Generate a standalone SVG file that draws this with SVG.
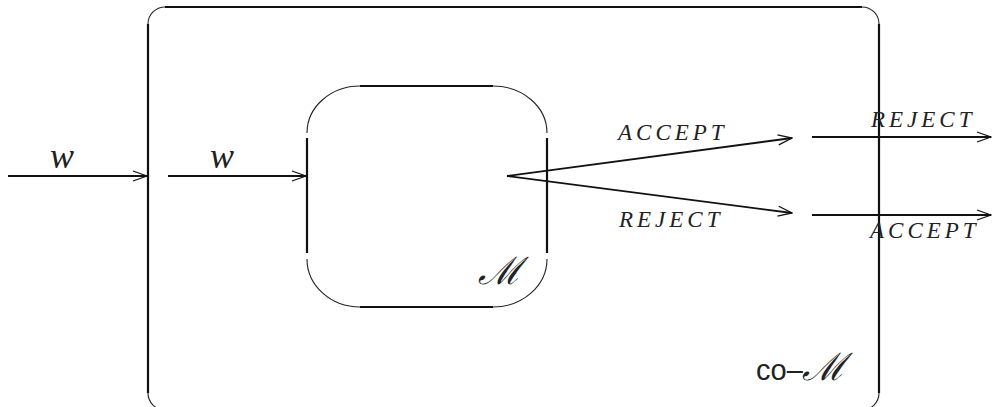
<svg xmlns="http://www.w3.org/2000/svg" width="992" height="407" viewBox="0 0 992 407">
<defs>
<marker id="ah" markerWidth="16" markerHeight="12" refX="15" refY="6" orient="auto" markerUnits="userSpaceOnUse">
<path d="M1,1 L15,6 L1,11" fill="none" stroke="#111" stroke-width="1.3"/>
</marker>
</defs>
<style>
.edge{stroke:#111;stroke-width:2.2;fill:none}
.arc{stroke:#222;stroke-width:1.1;fill:none}
.con{stroke:#111;stroke-width:1.8;fill:none}
.lab{font-family:"Liberation Serif",serif;font-style:italic;font-size:23px;letter-spacing:4px;fill:#222}
.w{font-family:"Liberation Serif",serif;font-style:italic;font-size:36px;fill:#222}
.cal{font-family:"DejaVu Serif",serif;font-style:italic;font-size:38px;fill:#222}
.sans{font-family:"Liberation Sans",sans-serif;font-size:29px;fill:#222}
</style>
<rect width="992" height="407" fill="#fff"/>
<g id="outer">
<path class="arc" d="M148,24 A17,17 0 0 1 165,7"/>
<path class="arc" d="M862,7 A17,17 0 0 1 879,24"/>
<path class="arc" d="M148,393 A17,17 0 0 0 165,410"/>
<path class="arc" d="M879,393 A17,17 0 0 1 862,410"/>
<line class="edge" x1="165" y1="7" x2="862" y2="7"/>
<line class="edge" x1="148" y1="24" x2="148" y2="393"/>
<line class="edge" x1="879" y1="24" x2="879" y2="393"/>
<text class="sans" x="756" y="380">co–<tspan class="cal" font-size="38px" dx="-1">ℳ</tspan></text>
</g>
<g id="inner">
<path class="arc" d="M307,133 A53,47 0 0 1 360,86"/>
<path class="arc" d="M493,86 A54,47 0 0 1 547,133"/>
<path class="arc" d="M307,259 A53,48 0 0 0 360,307"/>
<path class="arc" d="M547,259 A54,48 0 0 1 493,307"/>
<line class="edge" x1="360" y1="86" x2="493" y2="86"/>
<line class="edge" x1="360" y1="307" x2="493" y2="307"/>
<line class="edge" x1="307" y1="138" x2="307" y2="253"/>
<line class="edge" x1="547" y1="138" x2="547" y2="253"/>
<text class="cal" x="478" y="284">ℳ</text>
</g>
<g id="connectors">
<line class="con" x1="8" y1="176" x2="147" y2="176" marker-end="url(#ah)"/>
<line class="con" x1="168" y1="176" x2="306" y2="176" marker-end="url(#ah)"/>
<line class="con" x1="507" y1="176" x2="792" y2="138" marker-end="url(#ah)"/>
<line class="con" x1="507" y1="176" x2="792" y2="213" marker-end="url(#ah)"/>
<line class="con" x1="812" y1="137" x2="991" y2="137" marker-end="url(#ah)"/>
<line class="con" x1="812" y1="215" x2="991" y2="215" stroke-width="2.6" marker-end="url(#ah)"/>
</g>
<g id="labels">
<text class="w" x="50" y="168">w</text>
<text class="w" x="210" y="168">w</text>
<text class="lab" x="618" y="140">ACCEPT</text>
<text class="lab" x="619" y="227">REJECT</text>
<text class="lab" x="871" y="127">REJECT</text>
<text class="lab" x="870" y="238">ACCEPT</text>
</g>
</svg>
